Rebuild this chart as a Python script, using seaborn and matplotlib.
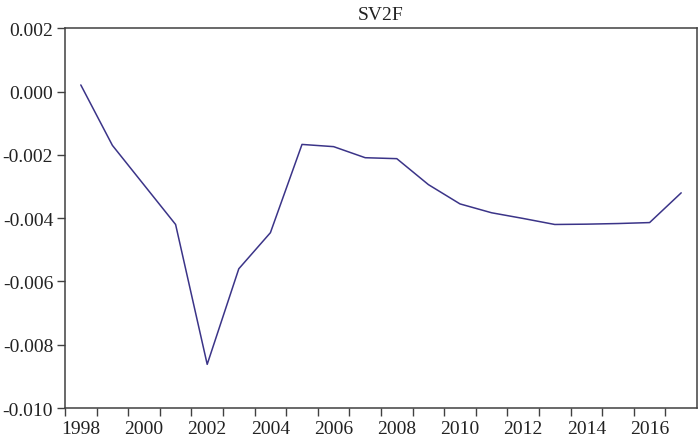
import numpy as np
import pandas as pd
import matplotlib
matplotlib.use("Agg")
import matplotlib.pyplot as plt
import seaborn as sns

# annual values of SV2F
years = list(range(1998, 2018))
sv2f = [0.00021, -0.00170, -0.00295, -0.00420, -0.00862, -0.00560,
        -0.00446, -0.00167, -0.00174, -0.00209, -0.00212, -0.00294,
        -0.00355, -0.00383, -0.00401, -0.00420, -0.00419, -0.00417,
        -0.00414, -0.00320]
y_ticks = [0.002, 0.000, -0.002, -0.004, -0.006, -0.008, -0.010]
x_labels = list(range(1998, 2018, 2))

df = pd.DataFrame({"year": years, "SV2F": sv2f})
# EViews draws annual observations at mid-year
df["pos"] = df["year"] + 0.5

sns.set_style("white")
plt.rcParams["font.family"] = ["Liberation Serif", "DejaVu Serif"]

fig = plt.figure(figsize=(7, 4.39), dpi=100)
ax = fig.add_axes([65 / 700, 1 - 409 / 439, 632 / 700, 379.7 / 439])

sns.lineplot(data=df, x="pos", y="SV2F", ax=ax, color="#3b3488", linewidth=1.1)

ax.set_xlim(1998, 2018)
ax.set_ylim(-0.010, 0.002)
ax.set_yticks(y_ticks)
ax.set_yticklabels([f"{v:.3f}" for v in y_ticks])

# ticks at every year boundary, labels centred inside even years
ax.set_xticks(range(1998, 2018))
ax.set_xticklabels([])
ax.set_xticks([y + 0.5 for y in x_labels], minor=True)
ax.set_xticklabels([str(y) for y in x_labels], minor=True)

ax.tick_params(axis="both", which="major", direction="out", length=5.5,
               width=1, color="#404040", labelsize=14, pad=3, labelcolor="#222222")
ax.tick_params(axis="x", which="minor", length=0, labelsize=14, pad=8.5,
               labelcolor="#222222")
ax.tick_params(left=True, bottom=True)

for s in ax.spines.values():
    s.set_color("#404040")
    s.set_linewidth(1.1)

ax.set_xlabel("")
ax.set_ylabel("")
ax.set_title("SV2F", fontsize=14, pad=7, color="#222222")

fig.savefig("out.png", dpi=100)
